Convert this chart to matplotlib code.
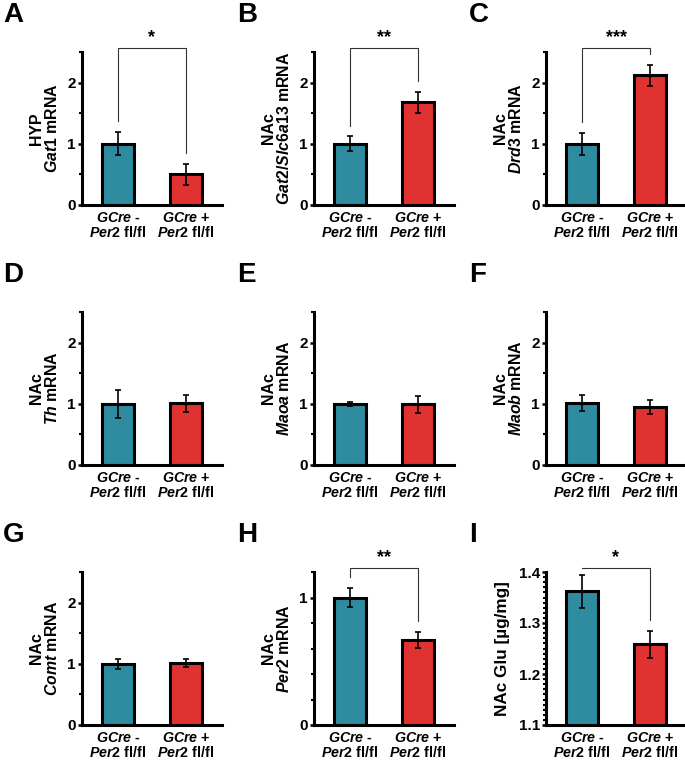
import matplotlib
matplotlib.use('Agg')
import matplotlib.pyplot as plt
from matplotlib.ticker import FixedLocator, MultipleLocator

plt.rcParams['font.family'] = 'Liberation Sans'
plt.rcParams['font.weight'] = 'bold'
plt.rcParams['axes.labelweight'] = 'bold'
plt.rcParams['mathtext.fontset'] = 'custom'
plt.rcParams['mathtext.it'] = 'Liberation Sans:italic:bold'
plt.rcParams['mathtext.rm'] = 'Liberation Sans:bold'
plt.rcParams['mathtext.bf'] = 'Liberation Sans:bold'

# data
panel_letters = ['A', 'B', 'C', 'D', 'E', 'F', 'G', 'H', 'I']
regions = ['HYP', 'NAc', 'NAc', 'NAc', 'NAc', 'NAc', 'NAc', 'NAc', 'NAc']
genes = ['Gat1', 'Gat2/Slc6a13', 'Drd3', 'Th', 'Maoa', 'Maob', 'Comt', 'Per2', None]
ctrl_mean = [1.00, 1.00, 1.00, 1.00, 1.00, 1.01, 1.00, 1.00, 1.362]
ctrl_sem = [0.19, 0.12, 0.18, 0.23, 0.03, 0.13, 0.085, 0.077, 0.032]
cko_mean = [0.50, 1.68, 2.12, 1.01, 0.99, 0.95, 1.01, 0.666, 1.258]
cko_sem = [0.17, 0.17, 0.17, 0.14, 0.14, 0.115, 0.065, 0.062, 0.026]
stars = ['*', '**', '***', '', '', '', '', '**', '*']
group_labels = [r'$\mathit{GCre}$ -' + '\n' + r'$\mathit{Per2}$ fl/fl',
                r'$\mathit{GCre}$ +' + '\n' + r'$\mathit{Per2}$ fl/fl']
glu_label = 'NAc Glu [µg/mg]'

BLUE = '#2E8BA0'
RED = '#E03331'

fig = plt.figure(figsize=(6.85, 7.61), dpi=100)
W, H = 685.0, 761.0

col_left = [82, 314, 546]
row_top = [52, 312, 572]
ax_w, ax_h = 140, 153

for i in range(9):
    r, c = i // 3, i % 3
    left = col_left[c] / W
    bottom = 1 - (row_top[r] + ax_h) / H
    ax = fig.add_axes([left, bottom, ax_w / W, ax_h / H])

    x = [0, 1]
    means = [ctrl_mean[i], cko_mean[i]]
    sems = [ctrl_sem[i], cko_sem[i]]
    ax.bar(x, means, width=0.46, color=[BLUE, RED], edgecolor='black',
           linewidth=2.2, zorder=2)
    ax.errorbar(x, means, yerr=sems, fmt='none', ecolor='black',
                elinewidth=1.2, capsize=2.5, capthick=1.2, zorder=3)

    if genes[i] == 'Per2':
        ylo, yhi = 0, 1.2
        ax.yaxis.set_major_locator(FixedLocator([0, 1]))
        ax.yaxis.set_minor_locator(FixedLocator([0.2, 0.4, 0.6, 0.8, 1.2]))
    elif genes[i] is None:
        ylo, yhi = 1.1, 1.4
        ax.yaxis.set_major_locator(MultipleLocator(0.1))
        ax.yaxis.set_minor_locator(MultipleLocator(0.01))
    else:
        ylo, yhi = 0, 2.5
        ax.yaxis.set_major_locator(FixedLocator([0, 1, 2]))
        ax.yaxis.set_minor_locator(FixedLocator([0.5, 1.5, 2.5]))
    ax.set_ylim(ylo, yhi)
    ax.set_xlim(-0.53, 1.53)
    if genes[i] is None:
        ax.yaxis.set_major_formatter(plt.FormatStrFormatter('%.1f'))
    else:
        ax.yaxis.set_major_formatter(plt.FormatStrFormatter('%d'))

    for s in ['top', 'right']:
        ax.spines[s].set_visible(False)
    for s in ['left', 'bottom']:
        ax.spines[s].set_linewidth(2.2)
    ax.tick_params(axis='y', which='major', length=3, width=1.8, pad=1.5,
                   labelsize=11)
    ax.tick_params(axis='y', which='minor', length=2, width=1.5)
    ax.set_xticks(x)
    ax.set_xticklabels(group_labels, fontsize=10.3, linespacing=1.0)
    ax.tick_params(axis='x', length=0, pad=4)

    if genes[i] is None:
        ax.set_ylabel(glu_label, fontsize=12.3, fontweight='bold', va='center')
        ax.yaxis.set_label_coords(-0.31, 0.5)
    else:
        ax.set_ylabel(regions[i] + '\n' + r'$\mathit{' + genes[i] + '}$ mRNA',
                      fontsize=11.4, fontweight='bold', va='center',
                      linespacing=1.0)
        ax.yaxis.set_label_coords(-0.265, 0.5)

    # significance bracket
    if stars[i]:
        span = yhi - ylo
        top = yhi + 0.025 * span
        l_end = means[0] + sems[0] + 0.07 * span
        r_end = means[1] + sems[1] + 0.07 * span
        ax.plot([0, 0, 1, 1], [min(l_end, top), top, top, min(r_end, top)],
                color='#333333', linewidth=0.8, clip_on=False, zorder=4)
        ax.annotate(stars[i], xy=(0.5, top), xytext=(0, 1.5),
                    textcoords='offset points', ha='center', va='bottom',
                    fontsize=13, fontweight='bold', annotation_clip=False)

    fig.text((col_left[c] - 79) / W if c == 0 else (col_left[c] - 77) / W,
             1 - (row_top[r] - 37) / H, panel_letters[i],
             fontsize=20, fontweight='bold', ha='left', va='center')

fig.savefig('out.png', dpi=100)
